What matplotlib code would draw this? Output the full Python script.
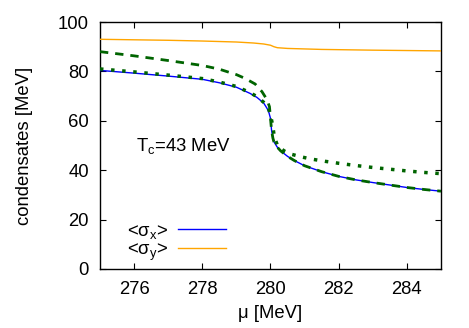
import matplotlib
matplotlib.use("Agg")
import matplotlib.pyplot as plt

plt.rcParams['font.family'] = ['Liberation Sans', 'DejaVu Sans']
plt.rcParams['mathtext.fontset'] = 'custom'
plt.rcParams['mathtext.rm'] = 'Liberation Sans'
plt.rcParams['mathtext.it'] = 'Liberation Sans:italic'

# sigma_x (blue, solid)
mu_x = [275.0, 276.0, 277.0, 278.0, 278.5, 279.0, 279.4, 279.6, 279.8, 279.9,
        279.95, 280.0, 280.03, 280.07, 280.1, 280.2, 280.3, 280.5, 280.7, 281.0,
        281.5, 282.0, 282.5, 283.0, 283.5, 284.0, 284.5, 285.0]
sig_x = [80.4, 79.3, 78.1, 76.8, 75.4, 73.6, 71.1, 69.5, 67.2, 65.0,
         63.5, 61.0, 56.3, 53.0, 51.5, 49.3, 47.8, 45.6, 43.9, 41.8,
         39.4, 37.5, 36.1, 35.0, 34.0, 33.0, 32.2, 31.5]

# sigma_y (orange, solid)
mu_y = [275.0, 276.0, 277.0, 278.0, 279.0, 279.5, 279.8, 280.0, 280.1, 280.2,
        280.5, 281.5, 283.0, 285.0]
sig_y = [93.0, 92.8, 92.6, 92.3, 91.9, 91.5, 91.1, 90.6, 90.0, 89.6,
         89.3, 88.9, 88.6, 88.3]

# green dashed
mu_d = [275.0, 276.0, 277.0, 278.0, 278.5, 279.0, 279.25, 279.55, 279.75, 279.9,
        279.97, 280.0, 280.03, 280.07, 280.1, 280.2, 280.3, 280.5, 280.7, 281.0,
        281.5, 282.0, 282.5, 283.0, 283.5, 284.0, 284.5, 285.0]
sig_d = [88.0, 86.3, 84.4, 82.4, 80.9, 78.7, 77.2, 74.9, 71.8, 68.5,
         65.7, 61.0, 56.3, 53.0, 51.5, 49.3, 47.8, 45.6, 43.9, 41.8,
         39.4, 37.5, 36.1, 35.0, 34.0, 33.0, 32.2, 31.5]

# green dotted
mu_o = [275.0, 276.0, 277.0, 278.0, 278.5, 279.0, 279.4, 279.6, 279.8, 279.93,
        280.01, 280.07, 280.11, 280.21, 280.4, 280.6, 280.9, 281.2, 281.6, 282.0,
        282.5, 283.0, 283.5, 284.0, 284.5, 285.0]
sig_o = [81.0, 79.8, 78.5, 77.1, 75.7, 73.9, 71.4, 69.8, 67.5, 65.7,
         61.7, 57.7, 53.6, 49.8, 47.8, 46.5, 45.4, 44.5, 43.6, 42.8,
         41.9, 41.1, 40.4, 39.7, 39.1, 38.6]

xticks = [276, 278, 280, 282, 284]
yticks = [0, 20, 40, 60, 80, 100]

FS = 13.3

fig = plt.figure(figsize=(4.69, 3.28), dpi=100)
ax = fig.add_axes([0.2132, 0.1799, 0.7271, 0.7530])

ax.plot(mu_x, sig_x, color='#0000ff', lw=1.0, label='<σ$_\\mathrm{x}$>', zorder=3)
ax.plot(mu_y, sig_y, color='#ffa500', lw=1.0, label='<σ$_\\mathrm{y}$>', zorder=3)
ax.plot(mu_d, sig_d, color='#006400', lw=2.0, ls=(0, (3, 2.5)), zorder=4)
ax.plot(mu_o, sig_o, color='#006400', lw=2.5, ls=(0, (1, 2.2)), zorder=4)

ax.set_xlim(275, 285)
ax.set_ylim(0, 100)
ax.set_xticks(xticks)
ax.set_yticks(yticks)
ax.tick_params(direction='in', top=True, right=True, length=4.5, width=0.8,
               labelsize=FS, pad=8)
ax.tick_params(axis='x', pad=9)
for s in ax.spines.values():
    s.set_linewidth(1.0)

ax.set_xlabel('μ [MeV]', fontsize=FS, labelpad=5)
ax.set_ylabel('condensates [MeV]', fontsize=FS)
ax.yaxis.set_label_coords(-0.195, 0.5)

ax.text(276.05, 50, 'T$_\\mathrm{c}$=43 MeV', fontsize=FS, va='center', ha='left')

leg = ax.legend(loc='center right', bbox_to_anchor=(0.3695, 0.107), frameon=False,
                markerfirst=False, fontsize=FS, handlelength=2.6,
                handletextpad=0.5, labelspacing=0.05, borderpad=0,
                borderaxespad=0)

fig.savefig('out.png', dpi=100)
